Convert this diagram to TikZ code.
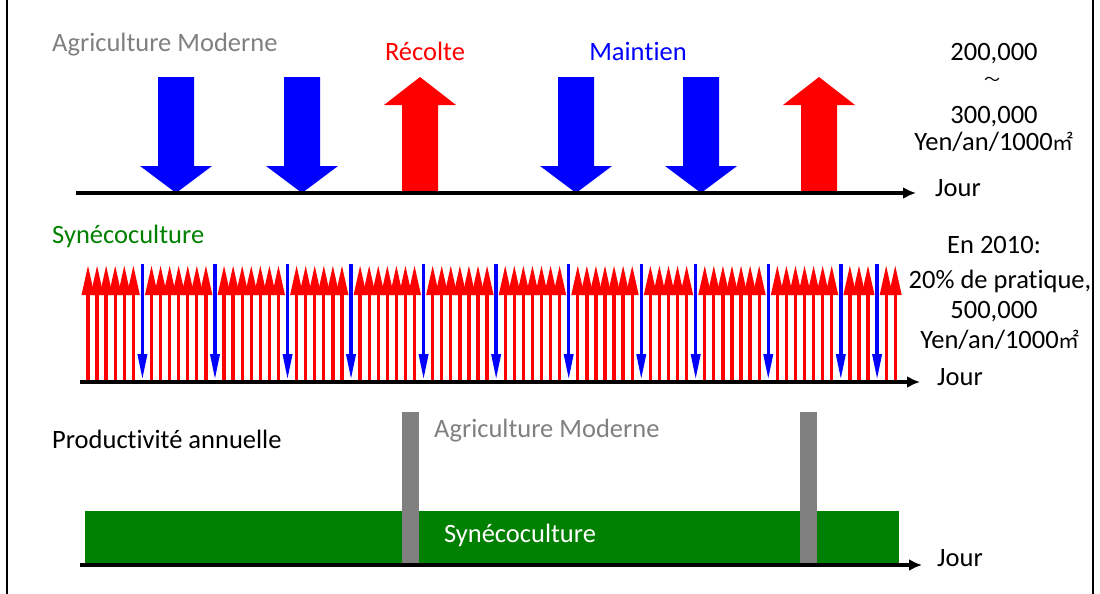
\documentclass[tikz,border=0pt]{standalone}
\usepackage{fontspec}
\setmainfont{Carlito}[Ligatures={NoCommon,NoContextual},Contextuals=NoAlternate]
\newfontfamily\cjk{Noto Sans CJK JP}
\usetikzlibrary{arrows.meta}
\definecolor{agrigray}{RGB}{128,128,128}
\definecolor{synegreen}{RGB}{0,128,0}
\newcommand{\msq}{{\cjk\fontsize{21}{24}\selectfont ㎡}}

\begin{document}
\begin{tikzpicture}
    [x=1pt,y=-1pt,
     every node/.style={inner sep=0pt,font=\fontsize{26.5}{30}\selectfont},
     axis/.style={line width=4pt,-{Latex[length=13pt,width=12pt]}},
     redup/.style={red,line width=3.3pt,-{Triangle[length=30pt,width=12pt]}},
     bluedn/.style={blue,line width=3.5pt,-{Triangle[length=26pt,width=9pt]}},
     downblk/.pic={\fill[blue] (-18,-116) -- (18,-116) -- (18,-27) -- (36,-27)
        -- (0,0) -- (-36,-27) -- (-18,-27) -- cycle;},
     upblk/.pic={\fill[red] (-18,0) -- (18,0) -- (18,-88) -- (36,-88)
        -- (0,-116) -- (-36,-88) -- (-18,-88) -- cycle;}]
    \useasboundingbox (0,0) rectangle (1100,594);
    \draw[line width=2.5pt] (7,0) -- (7,594) (1093,0) -- (1093,594);
    % Agriculture Moderne
    \node[anchor=base west,text=agrigray] (am) at (52,52) {Agriculture Moderne};
    \node[anchor=base,text=red] (rec) at (425,60) {Récolte};
    \node[anchor=base,text=blue] (mnt) at (638,60) {Main\kern0pt tien};
    \pic (d1) at (176,193) {downblk};
    \pic (d2) at (302,193) {downblk};
    \pic (u1) at (420,193) {upblk};
    \pic (d3) at (576,193) {downblk};
    \pic (d4) at (701,193) {downblk};
    \pic (u2) at (819,193) {upblk};
    \coordinate (t0) at (76,193);
    \coordinate (t1) at (916,193);
    \draw[axis] (t0) -- (t1);
    \node[anchor=base west] (tj) at (935,196) {Jour};
    \node[anchor=base] (p1) at (994,60) {200,000};
    \node[font=\cjk\fontsize{16}{18}\selectfont] (p2) at (992,81) {〜};
    \node[anchor=base] (p3) at (994,123) {300,000};
    \node[anchor=base] (p4) at (994,150) {Yen/an/1000\msq};
    % Synecoculture
    \node[anchor=base west,text=synegreen] (sy) at (52,243) {Synécoculture};
    \foreach \a/\b in {0/5,7/13,15/21,23/28,30/36,38/44,46/52,54/60,62/66,68/74,76/82,84/86,88/89}
      \foreach \i in {\a,...,\b}
        \draw[redup] ({88+\i*9.07},381) -- ({88+\i*9.07},265);
    \foreach \i in {6,14,22,29,37,45,53,61,67,75,83,87}
      \draw[bluedn] ({88+\i*9.07},264) -- ({88+\i*9.07},380);
    \coordinate (m0) at (80,382);
    \coordinate (m1) at (920,382);
    \draw[axis] (m0) -- (m1);
    \node[anchor=base west] (mj) at (937,385) {Jour};
    \node[anchor=base] (q1) at (994,253) {En 2010:};
    \node[anchor=base] (q2) at (1000,288) {20\% de pratique,};
    \node[anchor=base] (q3) at (994,318) {500,000};
    \node[anchor=base] (q4) at (1000,348) {Yen/an/1000\msq};
    % productivite
    \node[anchor=base west] (pa) at (52,448) {Produc\kern0pt tivité annuelle};
    \fill[synegreen] (85,511) rectangle (899,565);
    \fill[agrigray] (402,412) rectangle (419,565);
    \fill[agrigray] (800,412) rectangle (817,565);
    \node[anchor=base west,text=agrigray] (am2) at (434,437) {Agriculture Moderne};
    \node[anchor=base,text=white] (sy2) at (520,542) {Synécoculture};
    \coordinate (b0) at (80,565);
    \coordinate (b1) at (922,565);
    \draw[axis] (b0) -- (b1);
    \node[anchor=base west] (bj) at (937,566) {Jour};
\end{tikzpicture}
\end{document}
